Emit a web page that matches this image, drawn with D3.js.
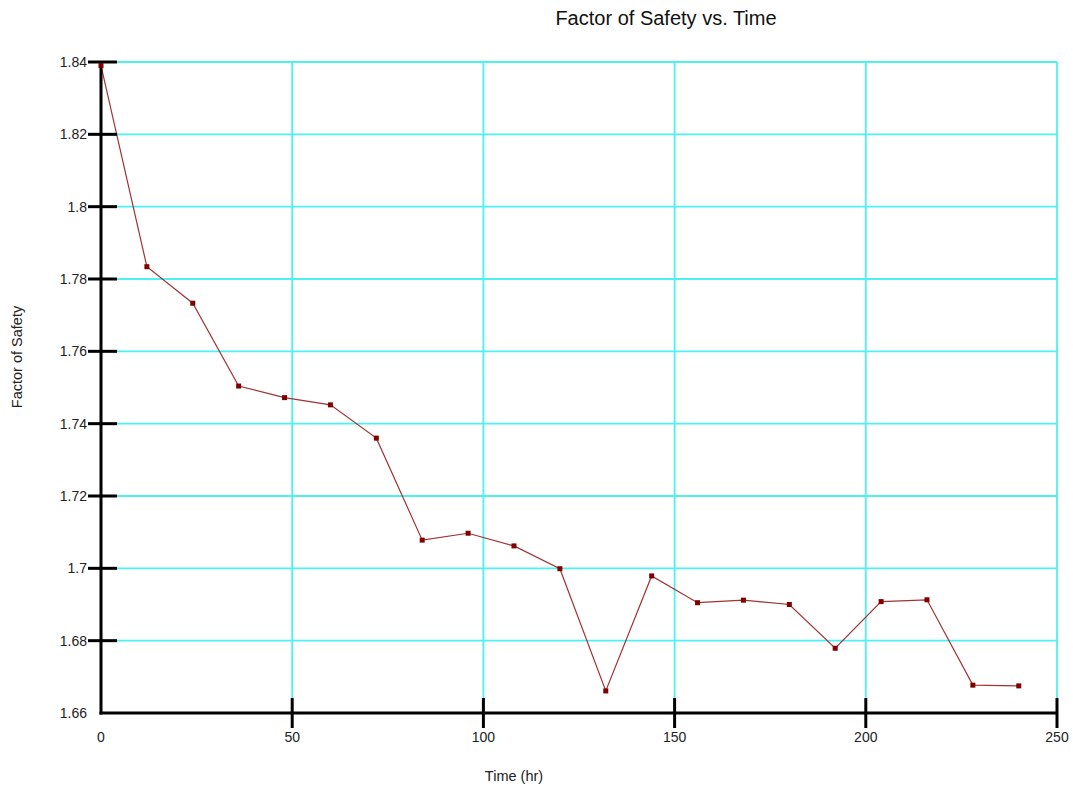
<!DOCTYPE html>
<html>
<head>
<meta charset="utf-8">
<script src="https://cdn.jsdelivr.net/npm/d3@7"></script>
<style>
  body { margin: 0; background: #fff; }
  svg { display: block; font-family: "Liberation Sans", Arial, sans-serif; }
</style>
</head>
<body>
<div id="chart"></div>
<script>
// time (hr) and factor of safety
var times = [0, 12, 24, 36, 48, 60, 72, 84, 96, 108, 120, 132, 144, 156, 168, 180, 192, 204, 216, 228, 240];
var fos = [1.839, 1.7834, 1.7733, 1.7504, 1.7472, 1.7452, 1.736, 1.7078, 1.7097, 1.7062, 1.6999,
           1.6661, 1.6979, 1.6905, 1.6912, 1.6900, 1.6779, 1.6908, 1.6913, 1.6677, 1.6675];
var xTicks = [0, 50, 100, 150, 200, 250];
var yTicks = [1.66, 1.68, 1.7, 1.72, 1.74, 1.76, 1.78, 1.8, 1.82, 1.84];

var width = 1073, height = 787;
var margin = {left: 101, right: 16, top: 62, bottom: 74};

var svg = d3.select("#chart").append("svg")
  .attr("width", width)
  .attr("height", height);

var x = d3.scaleLinear().domain([0, 250]).range([margin.left, width - margin.right]);
var y = d3.scaleLinear().domain([1.66, 1.84]).range([height - margin.bottom, margin.top]);

var grid = svg.append("g").attr("stroke", "#4cf2f2").attr("stroke-width", 1.8);
grid.selectAll("line.h").data(yTicks.slice(1)).enter().append("line")
  .attr("class", "h")
  .attr("x1", x(0)).attr("x2", x(250))
  .attr("y1", function(d){ return y(d); }).attr("y2", function(d){ return y(d); });
grid.selectAll("line.v").data(xTicks.slice(1)).enter().append("line")
  .attr("class", "v")
  .attr("y1", y(1.66)).attr("y2", y(1.84))
  .attr("x1", function(d){ return x(d); }).attr("x2", function(d){ return x(d); });

// series
var line = d3.line()
  .x(function(d, i){ return x(times[i]); })
  .y(function(d){ return y(d); });
svg.append("path")
  .datum(fos)
  .attr("fill", "none")
  .attr("stroke", "#a03333")
  .attr("stroke-width", 1.2)
  .attr("d", line);

// axes
var axisG = svg.append("g").attr("stroke", "#000").attr("stroke-width", 3);
axisG.append("line").attr("x1", x(0)).attr("x2", x(0)).attr("y1", y(1.84) - 1).attr("y2", y(1.66) + 1.5);
axisG.append("line").attr("x1", x(0) - 1.5).attr("x2", x(250)).attr("y1", y(1.66)).attr("y2", y(1.66));
axisG.selectAll("line.yt").data(yTicks.slice(1)).enter().append("line")
  .attr("class", "yt")
  .attr("x1", x(0) - 13).attr("x2", x(0) + 16)
  .attr("y1", function(d){ return y(d); }).attr("y2", function(d){ return y(d); });
axisG.selectAll("line.xt").data(xTicks.slice(1)).enter().append("line")
  .attr("class", "xt")
  .attr("x1", function(d){ return x(d); }).attr("x2", function(d){ return x(d); })
  .attr("y1", y(1.66) - 15).attr("y2", y(1.66) + 15);

svg.selectAll("rect.pt").data(fos).enter().append("rect")
  .attr("class", "pt")
  .attr("x", function(d, i){ return x(times[i]) - 2.5; })
  .attr("y", function(d){ return y(d) - 2.5; })
  .attr("width", 5).attr("height", 5)
  .attr("fill", "#800000");

svg.selectAll("text.yl").data(yTicks).enter().append("text")
  .attr("class", "yl")
  .attr("x", x(0) - 14)
  .attr("y", function(d){ return y(d); })
  .attr("dy", "0.35em")
  .attr("text-anchor", "end")
  .attr("font-size", 14)
  .attr("fill", "#222")
  .text(function(d){ return d3.format("")(+d.toFixed(2)); });

svg.selectAll("text.xl").data(xTicks).enter().append("text")
  .attr("class", "xl")
  .attr("x", function(d){ return x(d); })
  .attr("y", 737)
  .attr("dy", "0.35em")
  .attr("text-anchor", "middle")
  .attr("font-size", 14)
  .attr("fill", "#222")
  .text(function(d){ return d; });

svg.append("text")
  .attr("x", 666).attr("y", 18).attr("dy", "0.35em")
  .attr("text-anchor", "middle").attr("font-size", 20).attr("fill", "#111")
  .text("Factor of Safety vs. Time");

svg.append("text")
  .attr("x", 514).attr("y", 776).attr("dy", "0.35em")
  .attr("text-anchor", "middle").attr("font-size", 14.5).attr("fill", "#222")
  .text("Time (hr)");

svg.append("text")
  .attr("transform", "translate(17,357) rotate(-90)")
  .attr("dy", "0.35em")
  .attr("text-anchor", "middle").attr("font-size", 14.5).attr("fill", "#222")
  .text("Factor of Safety");
</script>
</body>
</html>
